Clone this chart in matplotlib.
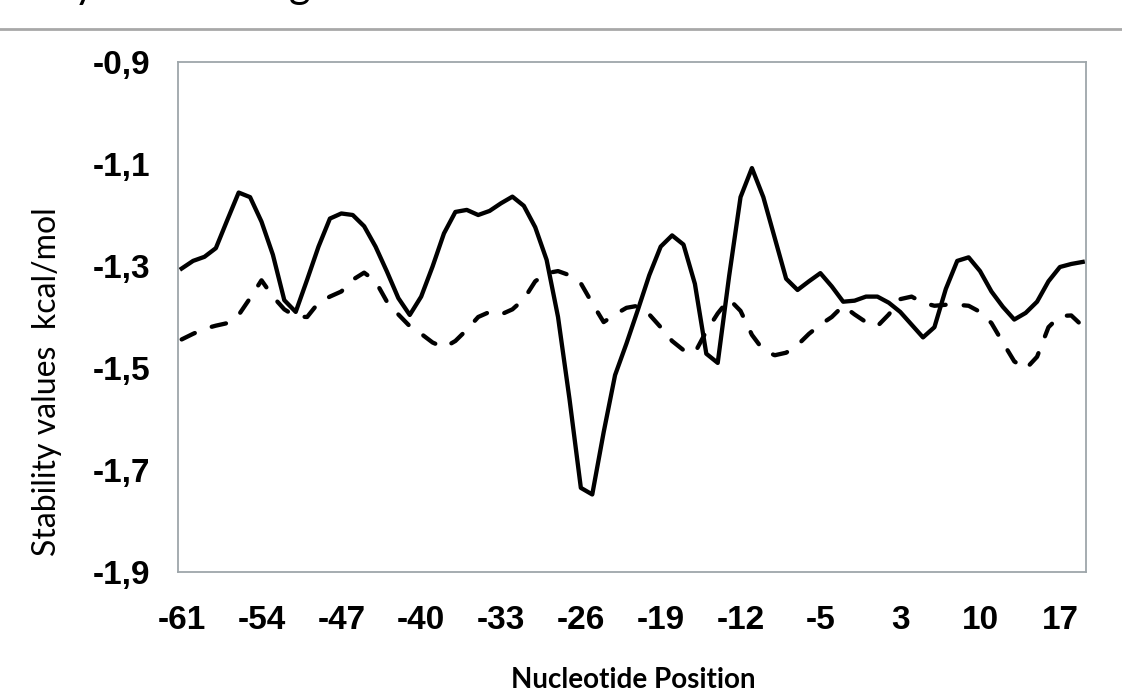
import matplotlib
matplotlib.use("Agg")
import matplotlib.pyplot as plt
from matplotlib.lines import Line2D

# nucleotide positions (no position 0)
positions = list(range(-61, 0)) + list(range(1, 20))

solid_values = [
    -1.305, -1.290, -1.282, -1.265, -1.210, -1.156, -1.165, -1.213, -1.278, -1.367,
    -1.390, -1.327, -1.262, -1.207, -1.197, -1.200, -1.222, -1.262, -1.311, -1.363,
    -1.396, -1.360, -1.301, -1.236, -1.194, -1.190, -1.200, -1.192, -1.177, -1.164,
    -1.182, -1.224, -1.288, -1.400, -1.560, -1.735, -1.748, -1.626, -1.514, -1.452,
    -1.386, -1.318, -1.262, -1.240, -1.258, -1.335, -1.472, -1.490, -1.320, -1.165,
    -1.108, -1.165, -1.245, -1.325, -1.347, -1.330, -1.314, -1.340, -1.370, -1.368,
    -1.360, -1.360, -1.372, -1.390, -1.415, -1.440, -1.420, -1.345, -1.290, -1.283,
    -1.310, -1.350, -1.380, -1.405, -1.392, -1.370, -1.330, -1.302, -1.296, -1.292,
]

dashed_values = [
    -1.444, -1.433, -1.423, -1.417, -1.412, -1.396, -1.363, -1.328, -1.360, -1.385,
    -1.399, -1.400, -1.372, -1.360, -1.350, -1.327, -1.313, -1.330, -1.370, -1.395,
    -1.418, -1.433, -1.450, -1.460, -1.447, -1.425, -1.400, -1.390, -1.395, -1.385,
    -1.365, -1.330, -1.314, -1.310, -1.318, -1.334, -1.373, -1.410, -1.395, -1.382,
    -1.378, -1.395, -1.420, -1.447, -1.465, -1.470, -1.428, -1.393, -1.365, -1.388,
    -1.435, -1.465, -1.475, -1.470, -1.455, -1.433, -1.415, -1.400, -1.378, -1.395,
    -1.410, -1.418, -1.395, -1.365, -1.360, -1.372, -1.378, -1.376, -1.376, -1.378,
    -1.390, -1.412, -1.450, -1.487, -1.502, -1.478, -1.420, -1.398, -1.397, -1.418,
]

y_ticks = [-0.9, -1.1, -1.3, -1.5, -1.7, -1.9]
y_tick_labels = ["-0,9", "-1,1", "-1,3", "-1,5", "-1,7", "-1,9"]

x = list(range(len(positions)))
x_ticks = x[::7]
x_tick_labels = [str(positions[i]) for i in x_ticks]

fig = plt.figure(figsize=(11.22, 6.94), dpi=100)
ax = fig.add_axes([178 / 1122, 1 - 572 / 694, 908 / 1122, 510 / 694])

ax.plot(x, solid_values, color="black", lw=3.1, solid_joinstyle="round")
ax.plot(x, dashed_values, color="black", lw=3.1, dashes=(3.4, 4.2),
        dash_capstyle="round")

ax.set_xlim(-0.32, 79.29)
ax.set_ylim(-1.9, -0.9)
ax.set_yticks(y_ticks)
ax.set_yticklabels(y_tick_labels)
ax.set_xticks(x_ticks)
ax.set_xticklabels(x_tick_labels)

tick_font = dict(family="Liberation Sans", weight="bold", size=24)
for lab in ax.get_xticklabels() + ax.get_yticklabels():
    lab.set(**tick_font)
ax.tick_params(axis="both", length=0)
ax.tick_params(axis="y", pad=20)
ax.tick_params(axis="x", pad=24)

for sp in ax.spines.values():
    sp.set_color("#9ea6aa")
    sp.set_linewidth(1.3)

fig.text(47 / 1122, 1 - 382 / 694, "Stability values  kcal/mol", rotation=90,
         ha="center", va="center", family="Lato", size=23)
fig.text(633 / 1122, 1 - 680 / 694, "Nucleotide Position", ha="center",
         va="center", family="Lato", weight="bold", size=20)

# bottoms of the caption letters cut off by the page crop
fig.text(84 / 1122, 1 + 2 / 694, "y", ha="center", va="baseline",
         family="Lato", size=30)
fig.text(300 / 1122, 1 + 2 / 694, "g", ha="center", va="baseline",
         family="Lato", size=30)

# grey rule across the top of the cropped page
fig.add_artist(Line2D([0, 1], [1 - 29 / 694, 1 - 29 / 694],
                      transform=fig.transFigure, color="#a8a8a8", lw=2))

fig.savefig("out.png", dpi=100, facecolor="white")
